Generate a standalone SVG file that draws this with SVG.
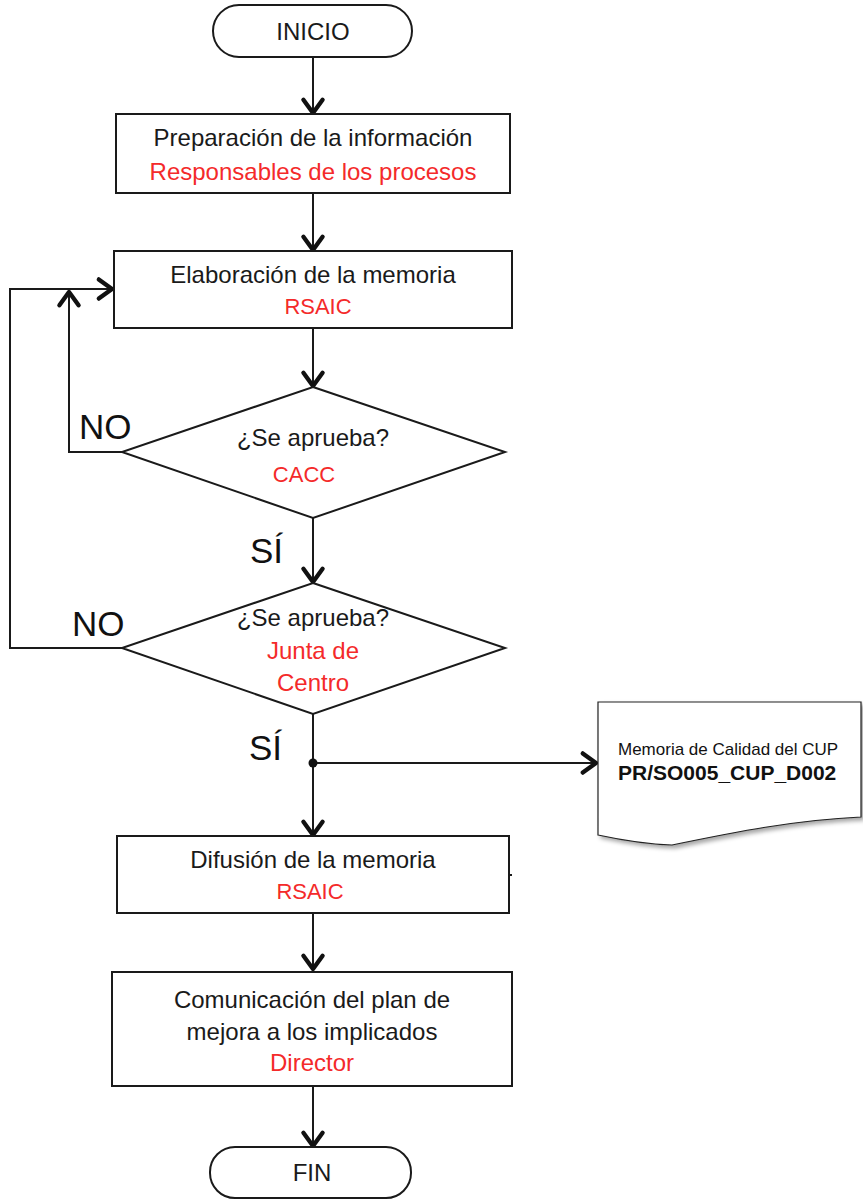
<svg xmlns="http://www.w3.org/2000/svg" width="863" height="1200" viewBox="0 0 863 1200">
<style>
  .shape { fill: #ffffff; stroke: #1a1a1a; stroke-width: 2; }
  .txt { font-family: "Liberation Sans", Arial, sans-serif; font-size: 24px; fill: #1a1a1a; text-anchor: middle; }
  .red { fill: #f42a2a; }
  .lbl { font-family: "Liberation Sans", Arial, sans-serif; font-size: 35px; fill: #111111; }
  .conn { fill: none; stroke: #1a1a1a; stroke-width: 2; }
  .doc { font-family: "Liberation Sans", Arial, sans-serif; fill: #111111; }
</style>
<defs>
  <marker id="arr" markerUnits="userSpaceOnUse" markerWidth="24" markerHeight="24" refX="0" refY="0" viewBox="-14 -10 16 20" orient="auto" overflow="visible">
    <path d="M-11,-8 L0,0 L-11,8" fill="none" stroke="#111111" stroke-width="3.6" stroke-linejoin="round" stroke-linecap="round"/>
  </marker>
  <filter id="shadow" x="-10%" y="-10%" width="130%" height="130%">
    <feDropShadow dx="3" dy="3" stdDeviation="2" flood-color="#000000" flood-opacity="0.35"/>
  </filter>
</defs>
<rect width="863" height="1200" fill="#ffffff"/>

<g id="connectors">
  <line class="conn" x1="313" y1="57" x2="313" y2="113" marker-end="url(#arr)"/>
  <line class="conn" x1="313" y1="193" x2="313" y2="250" marker-end="url(#arr)"/>
  <line class="conn" x1="313" y1="328" x2="313" y2="386" marker-end="url(#arr)"/>
  <line class="conn" x1="313" y1="518" x2="313" y2="582" marker-end="url(#arr)"/>
  <line class="conn" x1="313" y1="714" x2="313" y2="835" marker-end="url(#arr)"/>
  <line class="conn" x1="313" y1="763" x2="596" y2="763" marker-end="url(#arr)"/>
  <circle cx="313" cy="763" r="4.5" fill="#111111"/>
  <line class="conn" x1="313" y1="913" x2="313" y2="969" marker-end="url(#arr)"/>
  <line class="conn" x1="313" y1="1086" x2="313" y2="1146" marker-end="url(#arr)"/>
  <polyline class="conn" points="122,648 10,648 10,289 112,289" marker-end="url(#arr)"/>
  <polyline class="conn" points="122,452 69,452 69,292" marker-end="url(#arr)"/>
  <line class="conn" x1="509" y1="875" x2="512" y2="875"/>
  <text class="lbl" x="79" y="439">NO</text>
  <text class="lbl" x="250" y="563">SÍ</text>
  <text class="lbl" x="72" y="636">NO</text>
  <text class="lbl" x="249" y="760">SÍ</text>
</g>

<g id="inicio">
  <rect class="shape" x="213" y="5" width="199" height="52" rx="26" ry="26"/>
  <text class="txt" x="313" y="40">INICIO</text>
</g>

<g id="preparacion">
  <rect class="shape" x="116" y="114" width="394" height="79"/>
  <text class="txt" x="313" y="146">Preparación de la información</text>
  <text class="txt red" x="313" y="180">Responsables de los procesos</text>
</g>

<g id="elaboracion">
  <rect class="shape" x="114" y="251" width="398" height="77"/>
  <text class="txt" x="313" y="283">Elaboración de la memoria</text>
  <text class="txt red" x="318" y="314" style="font-size:22px">RSAIC</text>
</g>

<g id="decision-cacc">
  <polygon class="shape" points="313,387 505,452 313,518 122,452"/>
  <text class="txt" x="313" y="446">¿Se aprueba?</text>
  <text class="txt red" x="304" y="482" style="font-size:22px">CACC</text>
</g>

<g id="decision-junta">
  <polygon class="shape" points="313,583 505,648 313,714 122,648"/>
  <text class="txt" x="313" y="626">¿Se aprueba?</text>
  <text class="txt red" x="313" y="659">Junta de</text>
  <text class="txt red" x="313" y="691">Centro</text>
</g>

<g id="documento">
  <path d="M598,702 L861,702 L861,817 C795,820 735,832 672,845 Q640,844 598,835 Z" fill="#ffffff" stroke="#222222" stroke-width="1.2" filter="url(#shadow)"/>
  <text class="doc" x="618" y="755" style="font-size:17px">Memoria de Calidad del CUP</text>
  <text class="doc" x="618" y="780" style="font-size:21px;font-weight:bold">PR/SO005_CUP_D002</text>
</g>

<g id="difusion">
  <rect class="shape" x="117" y="836" width="392" height="77"/>
  <text class="txt" x="313" y="868">Difusión de la memoria</text>
  <text class="txt red" x="310" y="899" style="font-size:22px">RSAIC</text>
</g>

<g id="comunicacion">
  <rect class="shape" x="112" y="972" width="400" height="114"/>
  <text class="txt" x="312" y="1008">Comunicación del plan de</text>
  <text class="txt" x="312" y="1040">mejora a los implicados</text>
  <text class="txt red" x="312" y="1071">Director</text>
</g>

<g id="fin">
  <rect class="shape" x="210" y="1147" width="201" height="51" rx="25" ry="25"/>
  <text class="txt" x="312" y="1181">FIN</text>
</g>
</svg>
